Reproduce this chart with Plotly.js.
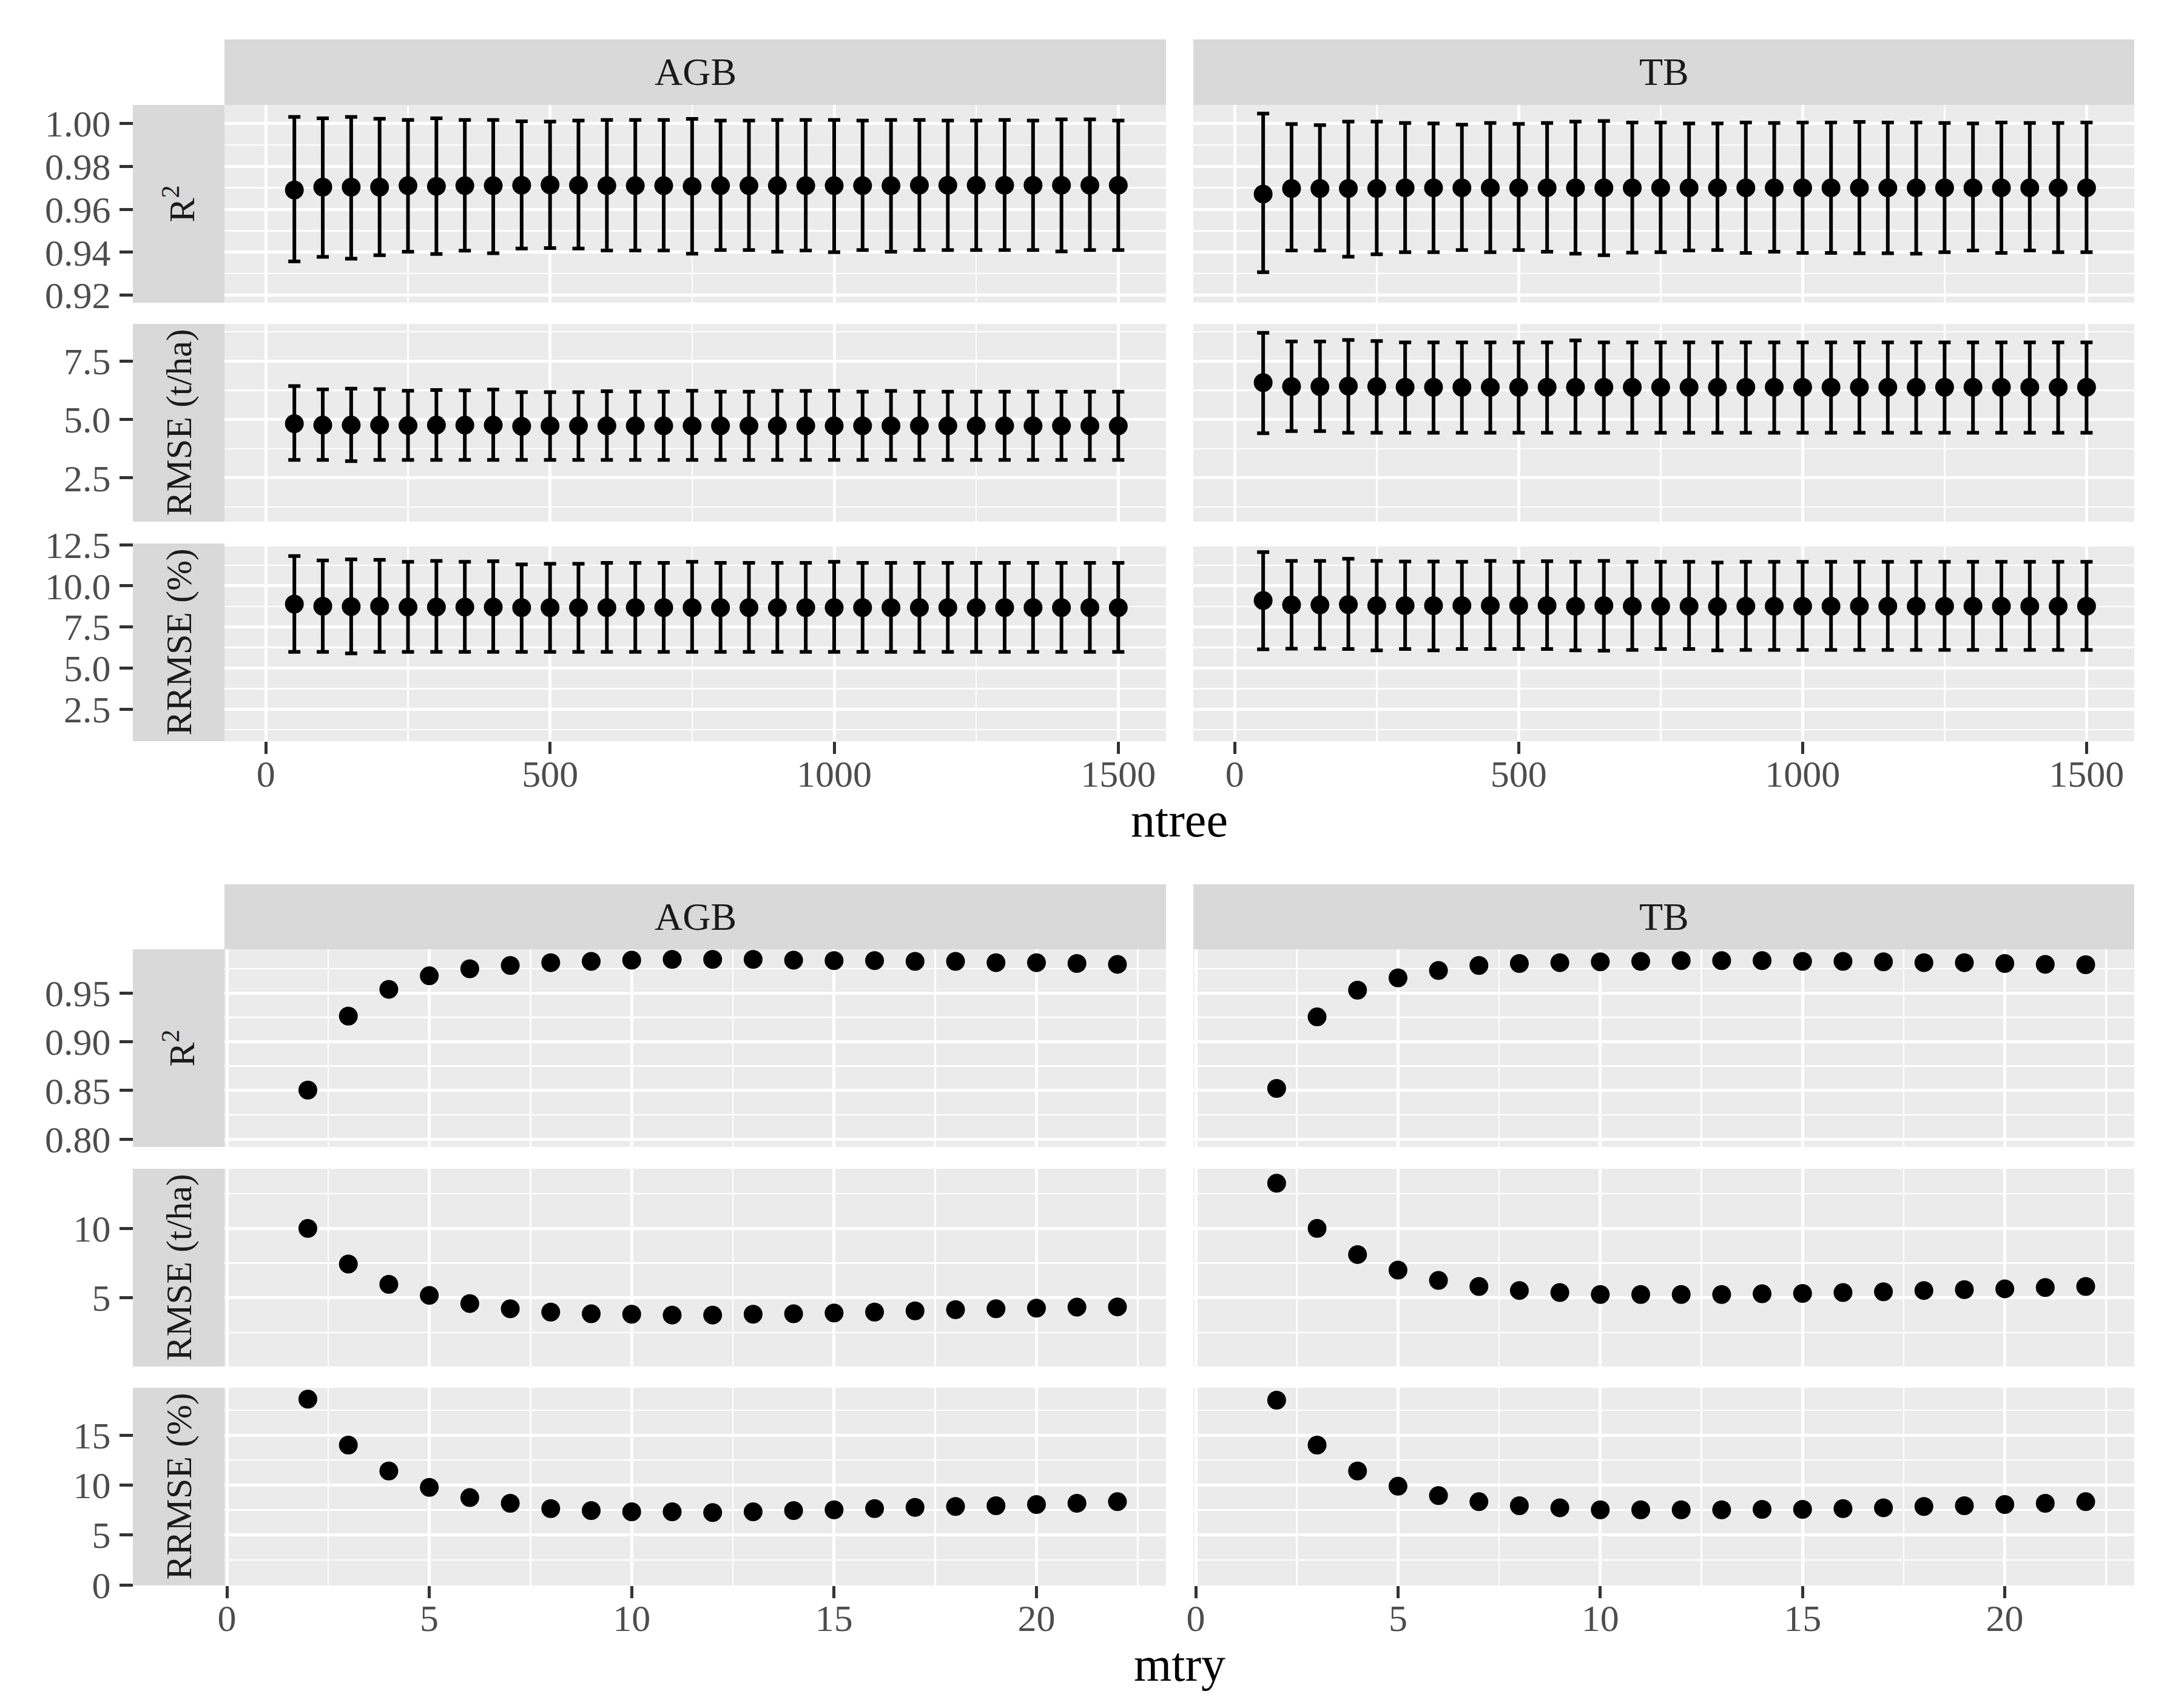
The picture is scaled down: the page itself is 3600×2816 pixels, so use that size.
<!DOCTYPE html>
<html>
<head>
<meta charset="utf-8">
<script src="https://cdn.plot.ly/plotly-3.0.1.min.js"></script>
<style>
  html, body { margin: 0; padding: 0; background: #fff; }
  #chart { width: 3600px; height: 2816px; }
</style>
</head>
<body>
<div id="chart"></div>
<script>
// ---- data ----
const ntree = [50, 100, 150, 200, 250, 300, 350, 400, 450, 500, 550, 600, 650, 700, 750,
  800, 850, 900, 950, 1000, 1050, 1100, 1150, 1200, 1250, 1300, 1350, 1400, 1450, 1500];
const mtry = [2, 3, 4, 5, 6, 7, 8, 9, 10, 11, 12, 13, 14, 15, 16, 17, 18, 19, 20, 21, 22];

// ntree, AGB
const agbR2Mean = [0.9690, 0.9703, 0.9703, 0.9703, 0.9710, 0.9707, 0.9710, 0.9710, 0.9712, 0.9714,
  0.9712, 0.9710, 0.9710, 0.9710, 0.9707, 0.9710, 0.9710, 0.9710, 0.9710, 0.9710,
  0.9710, 0.9710, 0.9712, 0.9712, 0.9712, 0.9712, 0.9712, 0.9712, 0.9712, 0.9712];
const agbR2Hi = [1.0030, 1.0024, 1.0030, 1.0022, 1.0016, 1.0024, 1.0016, 1.0016, 1.0010, 1.0008,
  1.0013, 1.0016, 1.0016, 1.0016, 1.0021, 1.0013, 1.0013, 1.0016, 1.0016, 1.0016,
  1.0013, 1.0016, 1.0016, 1.0013, 1.0013, 1.0016, 1.0013, 1.0019, 1.0019, 1.0013];
const agbR2Lo = [0.9357, 0.9378, 0.9370, 0.9386, 0.9402, 0.9392, 0.9407, 0.9395, 0.9417, 0.9419,
  0.9417, 0.9408, 0.9408, 0.9408, 0.9393, 0.9410, 0.9410, 0.9402, 0.9408, 0.9400,
  0.9410, 0.9402, 0.9410, 0.9410, 0.9410, 0.9410, 0.9410, 0.9404, 0.9410, 0.9410];
const agbRmseMean = [4.82, 4.76, 4.76, 4.76, 4.74, 4.76, 4.76, 4.76, 4.71, 4.73,
  4.73, 4.73, 4.73, 4.73, 4.73, 4.73, 4.73, 4.73, 4.73, 4.73,
  4.73, 4.73, 4.73, 4.73, 4.73, 4.73, 4.73, 4.73, 4.73, 4.73];
const agbRmseHi = [6.43, 6.29, 6.32, 6.30, 6.23, 6.26, 6.25, 6.28, 6.17, 6.17,
  6.17, 6.21, 6.19, 6.19, 6.23, 6.19, 6.19, 6.22, 6.22, 6.23,
  6.19, 6.22, 6.19, 6.19, 6.19, 6.19, 6.19, 6.19, 6.19, 6.19];
const agbRmseLo = [3.27, 3.27, 3.22, 3.27, 3.27, 3.27, 3.27, 3.27, 3.27, 3.27,
  3.27, 3.27, 3.27, 3.27, 3.27, 3.27, 3.27, 3.27, 3.27, 3.27,
  3.27, 3.27, 3.27, 3.27, 3.27, 3.27, 3.27, 3.27, 3.27, 3.27];
const agbRrmseMean = [8.89, 8.76, 8.74, 8.76, 8.71, 8.71, 8.71, 8.71, 8.68, 8.68,
  8.68, 8.68, 8.68, 8.68, 8.68, 8.68, 8.68, 8.68, 8.68, 8.68,
  8.68, 8.68, 8.68, 8.68, 8.68, 8.68, 8.68, 8.68, 8.68, 8.68];
const agbRrmseHi = [11.81, 11.55, 11.61, 11.58, 11.46, 11.52, 11.46, 11.50, 11.31, 11.34,
  11.34, 11.40, 11.40, 11.40, 11.46, 11.40, 11.40, 11.40, 11.40, 11.46,
  11.40, 11.40, 11.40, 11.40, 11.40, 11.40, 11.40, 11.40, 11.40, 11.40];
const agbRrmseLo = [5.98, 5.98, 5.89, 5.98, 5.98, 5.98, 5.98, 5.98, 5.98, 5.98,
  5.98, 5.98, 5.98, 5.98, 5.98, 5.98, 5.98, 5.98, 5.98, 5.98,
  5.98, 5.98, 5.98, 5.98, 5.98, 5.98, 5.98, 5.98, 5.98, 5.98];

// ntree, TB
const tbR2Mean = [0.9671, 0.9697, 0.9697, 0.9697, 0.9697, 0.9700, 0.9700, 0.9700, 0.9700, 0.9700,
  0.9700, 0.9700, 0.9700, 0.9700, 0.9700, 0.9700, 0.9700, 0.9700, 0.9700, 0.9700,
  0.9700, 0.9700, 0.9700, 0.9700, 0.9700, 0.9700, 0.9700, 0.9700, 0.9700, 0.9700];
const tbR2Hi = [1.0046, 0.9997, 0.9992, 1.0008, 1.0008, 1.0002, 1.0000, 0.9994, 1.0002, 0.9998,
  1.0002, 1.0008, 1.0011, 1.0004, 1.0004, 1.0000, 1.0000, 1.0004, 1.0002, 1.0004,
  1.0004, 1.0007, 1.0004, 1.0004, 1.0002, 1.0000, 1.0004, 1.0002, 1.0002, 1.0004];
const tbR2Lo = [0.9307, 0.9408, 0.9408, 0.9379, 0.9390, 0.9400, 0.9400, 0.9410, 0.9400, 0.9410,
  0.9402, 0.9393, 0.9386, 0.9398, 0.9400, 0.9408, 0.9410, 0.9397, 0.9402, 0.9397,
  0.9397, 0.9395, 0.9395, 0.9393, 0.9400, 0.9408, 0.9397, 0.9408, 0.9400, 0.9400];
const tbRmseMean = [6.58, 6.41, 6.41, 6.43, 6.41, 6.38, 6.38, 6.38, 6.38, 6.38,
  6.38, 6.38, 6.38, 6.38, 6.38, 6.38, 6.38, 6.38, 6.38, 6.38,
  6.38, 6.38, 6.38, 6.38, 6.38, 6.38, 6.38, 6.38, 6.38, 6.38];
const tbRmseHi = [8.71, 8.34, 8.34, 8.40, 8.36, 8.30, 8.30, 8.30, 8.30, 8.30,
  8.30, 8.38, 8.30, 8.30, 8.30, 8.30, 8.30, 8.30, 8.30, 8.30,
  8.30, 8.30, 8.30, 8.30, 8.30, 8.30, 8.30, 8.30, 8.30, 8.30];
const tbRmseLo = [4.41, 4.50, 4.50, 4.43, 4.43, 4.43, 4.43, 4.43, 4.43, 4.43,
  4.43, 4.43, 4.43, 4.43, 4.43, 4.43, 4.43, 4.43, 4.43, 4.43,
  4.43, 4.43, 4.43, 4.43, 4.43, 4.43, 4.43, 4.43, 4.43, 4.43];
const tbRrmseMean = [9.11, 8.84, 8.84, 8.86, 8.80, 8.80, 8.80, 8.80, 8.80, 8.80,
  8.80, 8.76, 8.80, 8.76, 8.76, 8.76, 8.74, 8.76, 8.76, 8.76,
  8.76, 8.76, 8.76, 8.76, 8.76, 8.76, 8.76, 8.76, 8.76, 8.76];
const tbRrmseHi = [12.05, 11.52, 11.52, 11.65, 11.52, 11.48, 11.48, 11.46, 11.52, 11.46,
  11.50, 11.46, 11.52, 11.46, 11.46, 11.46, 11.42, 11.46, 11.46, 11.46,
  11.46, 11.46, 11.46, 11.46, 11.46, 11.46, 11.46, 11.46, 11.46, 11.46];
const tbRrmseLo = [6.14, 6.18, 6.18, 6.16, 6.08, 6.16, 6.08, 6.16, 6.16, 6.16,
  6.16, 6.08, 6.06, 6.10, 6.16, 6.16, 6.08, 6.10, 6.10, 6.10,
  6.10, 6.10, 6.10, 6.10, 6.10, 6.10, 6.10, 6.10, 6.10, 6.10];

// mtry, AGB and TB
const agbMtryR2 = [0.8504, 0.9264, 0.9538, 0.9677, 0.9749, 0.9783, 0.9812, 0.9825, 0.9838, 0.9846,
  0.9846, 0.9846, 0.9838, 0.9833, 0.9833, 0.9825, 0.9825, 0.9812, 0.9812, 0.9804, 0.9795];
const agbMtryRmse = [10.0, 7.44, 5.97, 5.18, 4.59, 4.21, 3.97, 3.85, 3.82, 3.76,
  3.76, 3.82, 3.85, 3.91, 3.97, 4.06, 4.15, 4.21, 4.26, 4.33, 4.35];
const agbMtryRrmse = [18.6, 14.0, 11.4, 9.76, 8.74, 8.17, 7.64, 7.44, 7.32, 7.32,
  7.24, 7.32, 7.44, 7.52, 7.64, 7.76, 7.85, 7.93, 8.05, 8.17, 8.33];
const tbMtryR2 = [0.8521, 0.9255, 0.9530, 0.9656, 0.9732, 0.9783, 0.9804, 0.9812, 0.9821, 0.9825,
  0.9833, 0.9833, 0.9833, 0.9825, 0.9825, 0.9821, 0.9812, 0.9812, 0.9804, 0.9795, 0.9791];
const tbMtryRmse = [13.26, 10.0, 8.12, 7.00, 6.26, 5.82, 5.53, 5.38, 5.24, 5.24,
  5.24, 5.24, 5.29, 5.32, 5.38, 5.44, 5.53, 5.59, 5.65, 5.74, 5.82];
const tbMtryRrmse = [18.5, 14.0, 11.4, 9.88, 8.94, 8.33, 7.93, 7.72, 7.52, 7.52,
  7.52, 7.52, 7.56, 7.56, 7.64, 7.72, 7.85, 7.93, 8.05, 8.17, 8.33];

const columns = ['AGB', 'TB'];
const rowLabels = ['R<sup>2</sup>', 'RMSE (t/ha)', 'RRMSE (%)'];

// ---- layout geometry (pixels of a 3600 x 2816 page) ----
const W = 3600, H = 2816;
const colPx = [[370, 1922], [1967, 3518]];
const rowPx = [[173, 499], [534, 860], [896, 1222], [1565, 1891], [1927, 2253], [2288, 2614]];
const stripTopPx = [[65, 173], [1458, 1565]];
const rowStripPx = [219, 370];

const px2x = v => v / W;
const px2y = v => 1 - v / H;

const tickFont = { family: 'Liberation Serif', size: 62, color: '#4D4D4D' };
const stripFont = { family: 'Liberation Serif', size: 64, color: '#1A1A1A' };
const rowStripFont = { family: 'Liberation Serif', size: 60, color: '#1A1A1A' };

const yCfg = [
  { range: [0.9165, 1.0086], dtick: 0.02, tick0: 0.92, minor: 0.01, fmt: '.2f' },
  { range: [0.63, 9.09], dtick: 2.5, tick0: 0, minor: 1.25, fmt: '.1f' },
  { range: [0.55, 12.58], dtick: 2.5, tick0: 0, minor: 1.25, fmt: '.1f' },
  { range: [0.792, 0.995], dtick: 0.05, tick0: 0.8, minor: 0.025, fmt: '.2f' },
  { range: [0.05, 14.3], dtick: 5, tick0: 0, minor: 2.5, fmt: 'd' },
  { range: [-0.06, 19.74], dtick: 5, tick0: 0, minor: 2.5, fmt: 'd' }
];
const xCfg = [
  { range: [-73, 1584], dtick: 500, minor: 250 },
  { range: [-0.06, 23.2], dtick: 5, minor: 2.5 }
];

const seriesTop = [
  [[agbR2Mean, agbR2Lo, agbR2Hi], [tbR2Mean, tbR2Lo, tbR2Hi]],
  [[agbRmseMean, agbRmseLo, agbRmseHi], [tbRmseMean, tbRmseLo, tbRmseHi]],
  [[agbRrmseMean, agbRrmseLo, agbRrmseHi], [tbRrmseMean, tbRrmseLo, tbRrmseHi]]
];
const seriesBottom = [
  [agbMtryR2, tbMtryR2],
  [agbMtryRmse, tbMtryRmse],
  [agbMtryRrmse, tbMtryRrmse]
];

const traces = [];
const layout = {
  width: W, height: H,
  margin: { l: 0, r: 0, t: 0, b: 0, pad: 0 },
  paper_bgcolor: '#FFFFFF',
  plot_bgcolor: '#EBEBEB',
  showlegend: false,
  font: { family: 'Liberation Serif' },
  shapes: [],
  annotations: []
};

for (let b = 0; b < 2; b++) {
  for (let r = 0; r < 3; r++) {
    const rowIdx = b * 3 + r;
    for (let c = 0; c < 2; c++) {
      const p = rowIdx * 2 + c + 1;
      const xa = 'x' + p, ya = 'y' + p;
      const xc = xCfg[b], yc = yCfg[rowIdx];

      layout['xaxis' + p] = {
        domain: [px2x(colPx[c][0]), px2x(colPx[c][1])],
        anchor: ya,
        range: xc.range,
        tick0: 0, dtick: xc.dtick,
        showgrid: true, gridcolor: '#FFFFFF', gridwidth: 5,
        minor: { dtick: xc.minor, tick0: 0, showgrid: true, gridcolor: '#FFFFFF', gridwidth: 2.5, ticks: '' },
        zeroline: false, showline: false,
        ticks: r === 2 ? 'outside' : '',
        ticklen: 20, tickwidth: 5, tickcolor: '#333333',
        showticklabels: r === 2,
        ticklabelstandoff: -20,
        tickfont: tickFont
      };
      const yAxis = {
        domain: [px2y(rowPx[rowIdx][1]), px2y(rowPx[rowIdx][0])],
        anchor: c === 0 ? 'free' : xa,
        range: yc.range,
        tick0: yc.tick0, dtick: yc.dtick,
        tickformat: yc.fmt,
        showgrid: true, gridcolor: '#FFFFFF', gridwidth: 5,
        minor: { dtick: yc.minor, tick0: yc.tick0, showgrid: true, gridcolor: '#FFFFFF', gridwidth: 2.5, ticks: '' },
        zeroline: false, showline: false,
        ticks: c === 0 ? 'outside' : '',
        ticklen: 22, tickwidth: 5, tickcolor: '#333333',
        showticklabels: c === 0,
        ticklabelstandoff: 2,
        tickfont: tickFont
      };
      if (c === 0) yAxis.position = px2x(rowStripPx[0]);
      layout['yaxis' + p] = yAxis;

      if (b === 0) {
        const [mean, lo, hi] = seriesTop[r][c];
        traces.push({
          type: 'scatter', mode: 'markers',
          x: ntree, y: mean, xaxis: xa, yaxis: ya,
          marker: { color: '#000000', size: 31 },
          error_y: {
            type: 'data', symmetric: false,
            array: hi.map((h, i) => h - mean[i]),
            arrayminus: lo.map((l, i) => mean[i] - l),
            color: '#000000', thickness: 6, width: 10
          },
          hoverinfo: 'skip'
        });
      } else {
        traces.push({
          type: 'scatter', mode: 'markers',
          x: mtry, y: seriesBottom[r][c], xaxis: xa, yaxis: ya,
          marker: { color: '#000000', size: 31 },
          hoverinfo: 'skip'
        });
      }
    }

    // row strip on the left
    layout.shapes.push({
      type: 'rect', xref: 'paper', yref: 'paper', layer: 'below',
      x0: px2x(rowStripPx[0]), x1: px2x(rowStripPx[1]),
      y0: px2y(rowPx[rowIdx][1]), y1: px2y(rowPx[rowIdx][0]),
      fillcolor: '#D9D9D9', line: { width: 0 }
    });
    layout.annotations.push({
      xref: 'paper', yref: 'paper', showarrow: false,
      x: px2x((rowStripPx[0] + rowStripPx[1]) / 2),
      y: px2y((rowPx[rowIdx][0] + rowPx[rowIdx][1]) / 2),
      xanchor: 'center', yanchor: 'middle',
      text: rowLabels[r], textangle: -90, font: rowStripFont
    });
  }

  // column strips on top
  for (let c = 0; c < 2; c++) {
    layout.shapes.push({
      type: 'rect', xref: 'paper', yref: 'paper', layer: 'below',
      x0: px2x(colPx[c][0]), x1: px2x(colPx[c][1]),
      y0: px2y(stripTopPx[b][1]), y1: px2y(stripTopPx[b][0]),
      fillcolor: '#D9D9D9', line: { width: 0 }
    });
    layout.annotations.push({
      xref: 'paper', yref: 'paper', showarrow: false,
      x: px2x((colPx[c][0] + colPx[c][1]) / 2),
      y: px2y((stripTopPx[b][0] + stripTopPx[b][1]) / 2),
      xanchor: 'center', yanchor: 'middle',
      text: columns[c], font: stripFont
    });
  }
}

// x axis titles
const axisTitles = [['ntree', 1352], ['mtry', 2744]];
axisTitles.forEach(([txt, yPx]) => {
  layout.annotations.push({
    xref: 'paper', yref: 'paper', showarrow: false,
    x: px2x((colPx[0][0] + colPx[1][1]) / 2), y: px2y(yPx),
    xanchor: 'center', yanchor: 'middle',
    text: txt, font: { family: 'Liberation Serif', size: 80, color: '#000000' }
  });
});

Plotly.newPlot('chart', traces, layout, { staticPlot: true, displayModeBar: false });
</script>
</body>
</html>
